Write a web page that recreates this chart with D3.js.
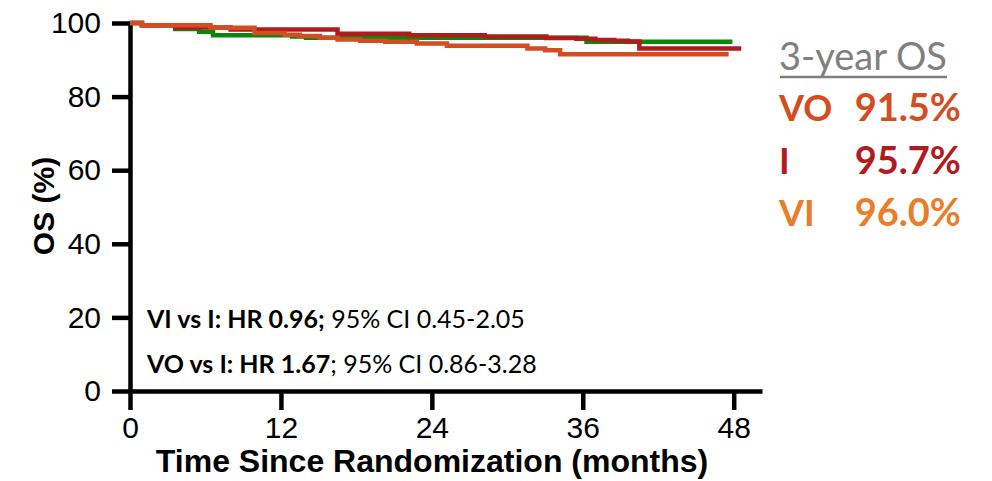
<!DOCTYPE html>
<html>
<head>
<meta charset="utf-8">
<script src="https://cdn.jsdelivr.net/npm/d3@7"></script>
<style>
  html, body { margin: 0; padding: 0; background: #fff; }
  svg { display: block; }
  .tick text { font-family: 'Liberation Sans', Arial, sans-serif; font-size: 30px; fill: #000; }
</style>
</head>
<body>
<svg id="chart" width="992" height="481"></svg>
<script>
// Kaplan–Meier overall survival, step points as [month, OS %]
const armVI = [[0,100],[0.95,99.4],[3.6,98.4],[5.5,97.6],[6.6,96.7],[12.9,96.3],[14.0,96.0],[36.3,94.9],[47.9,94.9]];
const armI  = [[0,100],[0.95,99.4],[3.6,98.8],[8.0,98.2],[16.5,97.1],[22.2,96.7],[28.2,96.3],[33.1,95.9],[35.5,95.7],[37.0,95.4],[38.5,95.2],[39.6,95.0],[40.5,93.1],[48.6,93.1]];
const armVO = [[0,100],[0.95,99.4],[6.4,98.7],[9.9,97.3],[12.3,96.8],[13.5,96.5],[15.1,96.0],[16.5,95.5],[18.3,95.2],[20.3,94.9],[22.8,94.4],[25.2,93.8],[31.6,93.1],[33.0,92.6],[34.2,91.5],[47.6,91.5]];

const xTicks = [0, 12, 24, 36, 48];
const yTicks = [0, 20, 40, 60, 80, 100];

const legendTitle = "3-year OS";
const legendNames = ["VO", "I", "VI"];
const legendValues = ["91.5%", "95.7%", "96.0%"];
const legendColors = ["#d44d22", "#b01c1e", "#e97d29"];

const curveColors = { VI: "#0a870a", I: "#b01c1e", VO: "#d44d22" };

const svg = d3.select("#chart");
const x = d3.scaleLinear().domain([0, 50.25]).range([130, 762]);
const y = d3.scaleLinear().domain([0, 100]).range([391, 23]);

// Axes
const gx = svg.append("g").attr("transform", "translate(0,391)")
  .call(d3.axisBottom(x).tickValues(xTicks).tickSize(19).tickSizeOuter(0).tickPadding(7));
const gy = svg.append("g").attr("transform", "translate(130,0)")
  .call(d3.axisLeft(y).tickValues(yTicks).tickSize(18).tickSizeOuter(0).tickPadding(11));

[gx, gy].forEach(g => {
  g.attr("font-size", null).attr("font-family", null);
  g.select(".domain").attr("stroke", "#000").attr("stroke-width", 4.5);
  g.selectAll(".tick line").attr("stroke", "#000").attr("stroke-width", 4.5);
});

// Survival curves
const line = d3.line().curve(d3.curveStepAfter).x(d => x(d[0])).y(d => y(d[1]));
[["VI", armVI], ["I", armI], ["VO", armVO]].forEach(([k, data]) => {
  svg.append("path").datum(data)
    .attr("d", line)
    .attr("fill", "none")
    .attr("stroke", curveColors[k])
    .attr("stroke-width", 4.5)
    .attr("stroke-linejoin", "miter");
});

// Axis titles
svg.append("text")
  .attr("x", 432).attr("y", 472)
  .attr("text-anchor", "middle")
  .style("font-family", "'Liberation Sans', Arial, sans-serif")
  .style("font-weight", "bold").style("font-size", "32px")
  .text("Time Since Randomization (months)");

svg.append("text")
  .attr("transform", "translate(54,206) rotate(-90)")
  .attr("text-anchor", "middle")
  .style("font-family", "'Liberation Sans', Arial, sans-serif")
  .style("font-weight", "bold").style("font-size", "30px")
  .text("OS (%)");

// Hazard ratio annotations
const note = svg.append("g").style("font-family", "Lato, 'Open Sans', sans-serif").style("font-size", "25px");
const n1 = note.append("text").attr("x", 147).attr("y", 328);
n1.append("tspan").style("font-weight", "bold").text("VI vs I: HR 0.96;");
n1.append("tspan").text(" 95% CI 0.45-2.05");
const n2 = note.append("text").attr("x", 147).attr("y", 373);
n2.append("tspan").style("font-weight", "bold").text("VO vs I: HR 1.67");
n2.append("tspan").text("; 95% CI 0.86-3.28");

// 3-year OS legend
const lg = svg.append("g").style("font-family", "Lato, 'Open Sans', sans-serif");
lg.append("text").attr("x", 779).attr("y", 70)
  .style("font-size", "38px").attr("fill", "#808080").text(legendTitle);
lg.append("line").attr("x1", 780).attr("x2", 947).attr("y1", 77).attr("y2", 77)
  .attr("stroke", "#808080").attr("stroke-width", 2.5);

legendNames.forEach((name, i) => {
  const yy = 121 + i * 52.5;
  lg.append("text").attr("x", 779).attr("y", yy)
    .style("font-size", "36px").style("font-weight", "bold")
    .attr("fill", legendColors[i]).text(name);
  lg.append("text").attr("x", 961).attr("y", yy).attr("text-anchor", "end")
    .style("font-size", "38px").style("font-weight", "bold")
    .attr("fill", legendColors[i]).text(legendValues[i]);
});
</script>
</body>
</html>
